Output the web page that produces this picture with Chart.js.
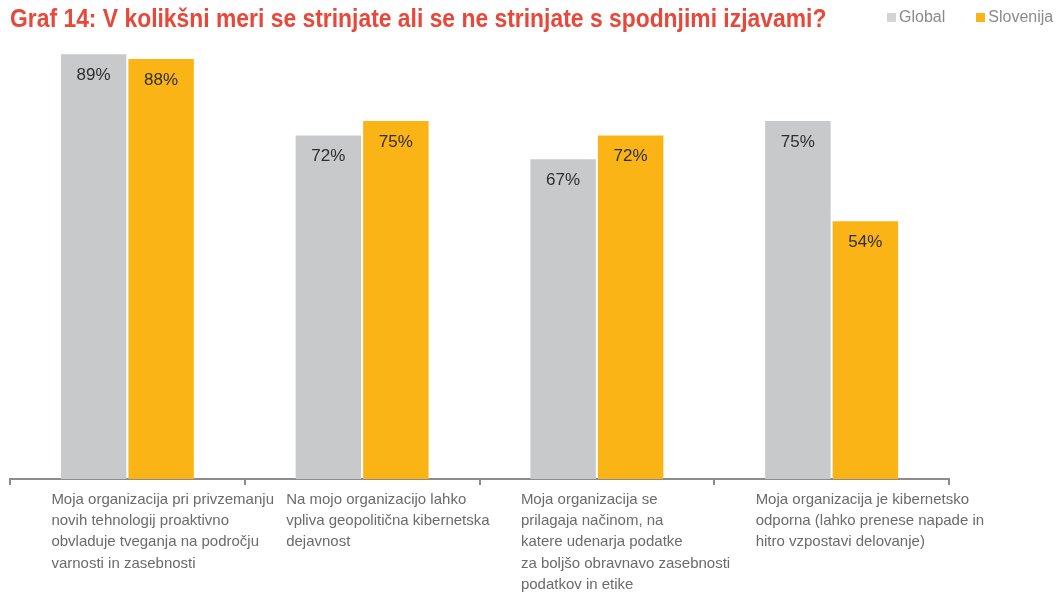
<!DOCTYPE html>
<html>
<head>
<meta charset="utf-8">
<script src="https://cdn.jsdelivr.net/npm/chart.js@4"></script>
<style>
  html, body { margin: 0; padding: 0; background: #fff; }
  #wrap { position: relative; width: 1059px; height: 602px; overflow: hidden; }
  #myChart { position: absolute; left: 0; top: 0; }
  #title {
    position: absolute; left: 10px; top: 5px;
    font: bold 26px "Liberation Sans", Arial, sans-serif; line-height: 26px;
    color: #e8473a; white-space: nowrap;
    transform: scaleX(0.88); transform-origin: left top;
  }
  #legend {
    position: absolute; left: 887px; top: 8px; display: flex;
    font: 16px "Liberation Sans", Arial, sans-serif; line-height: 18px; color: #8a8a8a;
  }
  #legend .item { display: flex; align-items: center; margin-right: 31px; }
  #legend .box { width: 9px; height: 9px; margin-right: 3px; margin-top: 1px; }
</style>
</head>
<body>
<div id="wrap">
  <canvas id="myChart" width="1059" height="602"></canvas>
  <div id="title">Graf 14: V kolikšni meri se strinjate ali se ne strinjate s spodnjimi izjavami?</div>
  <div id="legend"></div>
</div>
<script>
const categories = [
  ["Moja organizacija pri privzemanju", "novih tehnologij proaktivno", "obvladuje tveganja na področju", "varnosti in zasebnosti"],
  ["Na mojo organizacijo lahko", "vpliva geopolitična kibernetska", "dejavnost"],
  ["Moja organizacija se", "prilagaja načinom, na", "katere udenarja podatke", "za boljšo obravnavo zasebnosti", "podatkov in etike"],
  ["Moja organizacija je kibernetsko", "odporna (lahko prenese napade in", "hitro vzpostavi delovanje)"]
];
const globalValues = [89, 72, 67, 75];
const sloveniaValues = [88, 75, 72, 54];
const seriesNames = ["Global", "Slovenija"];
const seriesColors = ["#c8c9cb", "#fbb416"];

// percent labels inside the top of each bar
const valueLabels = {
  id: "valueLabels",
  afterDatasetsDraw(chart) {
    const ctx = chart.ctx;
    ctx.save();
    ctx.font = "17px 'Liberation Sans', Arial, sans-serif";
    ctx.fillStyle = "#2e2e2e";
    ctx.textAlign = "center";
    ctx.textBaseline = "middle";
    chart.data.datasets.forEach((ds, d) => {
      chart.getDatasetMeta(d).data.forEach((bar, i) => {
        ctx.fillText(ds.data[i] + "%", bar.x, bar.y + 21);
      });
    });
    ctx.restore();
  }
};

const chart = new Chart("myChart", {
  type: "bar",
  data: {
    labels: categories,
    datasets: [
      { label: seriesNames[0], data: globalValues, backgroundColor: seriesColors[0] },
      { label: seriesNames[1], data: sloveniaValues, backgroundColor: seriesColors[1] }
    ]
  },
  options: {
    responsive: false,
    animation: false,
    layout: { padding: { left: 10, top: 40, right: 0, bottom: 0 } },
    datasets: { bar: { categoryPercentage: 0.575, barPercentage: 0.97 } },
    plugins: {
      legend: { display: false },
      title: { display: false },
      tooltip: { enabled: false }
    },
    scales: {
      x: {
        afterFit: (scale) => {
          scale.height = 123;
          // labels are shifted left, don't let them shrink the plot
          scale.paddingLeft = 0;
          scale.paddingRight = 0;
        },
        grid: { offset: true, drawOnChartArea: false, drawTicks: true, tickLength: 6, color: "#8c8c8c", lineWidth: 2 },
        border: { display: true, color: "#8c8c8c", width: 2 },
        ticks: {
          autoSkip: false, maxRotation: 0, minRotation: 0,
          align: "start", labelOffset: -76, padding: 4,
          color: "#6b6b6b",
          font: { family: "'Liberation Sans', Arial, sans-serif", size: 15, lineHeight: 1.42 }
        }
      },
      y: {
        position: "right",
        min: 0, max: 92,
        afterFit: (scale) => { scale.width = 110; },
        grid: { display: false },
        border: { display: false },
        ticks: { display: false }
      }
    }
  },
  plugins: [valueLabels]
});

// legend built from the series
const legend = document.getElementById("legend");
seriesNames.forEach((name, i) => {
  const item = document.createElement("div");
  item.className = "item";
  const box = document.createElement("span");
  box.className = "box";
  box.style.background = i === 0 ? "#d4d4d4" : seriesColors[i];
  const txt = document.createElement("span");
  txt.textContent = name;
  item.appendChild(box);
  item.appendChild(txt);
  legend.appendChild(item);
});
</script>
</body>
</html>
